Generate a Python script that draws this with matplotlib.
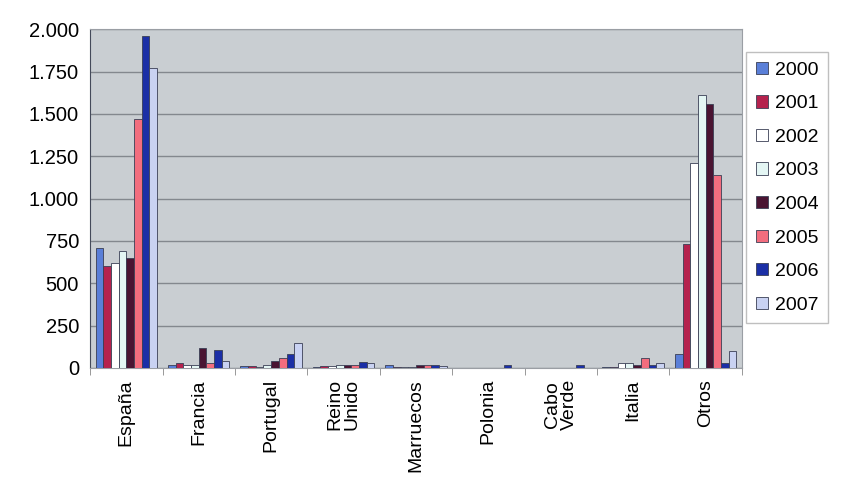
import numpy as np
import matplotlib.pyplot as plt
from matplotlib.ticker import FixedLocator

plt.rcParams["font.family"] = ["Liberation Sans", "DejaVu Sans"]

countries = ["España", "Francia", "Portugal", "Reino\nUnido", "Marruecos",
             "Polonia", "Cabo\nVerde", "Italia", "Otros"]
years = ["2000", "2001", "2002", "2003", "2004", "2005", "2006", "2007"]

# one list per year, one value per country
y2000 = [710, 20, 10, 5, 15, 0, 0, 5, 80]
y2001 = [600, 30, 10, 10, 5, 0, 0, 5, 730]
y2002 = [620, 15, 5, 10, 5, 0, 0, 30, 1210]
y2003 = [690, 20, 20, 15, 5, 0, 0, 30, 1610]
y2004 = [650, 120, 40, 20, 20, 0, 0, 20, 1560]
y2005 = [1470, 30, 60, 20, 15, 0, 0, 60, 1140]
y2006 = [1960, 105, 80, 35, 15, 15, 15, 20, 30]
y2007 = [1770, 40, 150, 30, 10, 0, 0, 30, 100]
series = [y2000, y2001, y2002, y2003, y2004, y2005, y2006, y2007]

colors = ["#5a7fd8", "#b5224e", "#ffffff", "#e4f6f4",
          "#4a1432", "#f26d7e", "#1b2fa6", "#c9d2f2"]

fig = plt.figure(figsize=(8.42, 4.88), dpi=100)
ax = fig.add_axes([0.107, 0.246, 0.774, 0.694])
ax.set_facecolor("#c9ced2")

x = np.arange(len(countries))
n = len(series)
width = 0.85 / n
for i, (vals, col) in enumerate(zip(series, colors)):
    offs = (i - (n - 1) / 2) * width
    ax.bar(x + offs, vals, width=width, color=col, edgecolor="#3a3f55",
           linewidth=0.6, label=years[i], zorder=3)

ax.set_xlim(-0.5, len(countries) - 0.5)
ax.set_ylim(0, 2000)
yt = [0, 250, 500, 750, 1000, 1250, 1500, 1750, 2000]
ax.set_yticks(yt)
ax.set_yticklabels([f"{v:,}".replace(",", ".") for v in yt], fontsize=14.5)
ax.yaxis.grid(True, color="#83888e", linewidth=1.0, zorder=0)

ax.set_xticks(x)
ax.set_xticklabels(countries, rotation=90, fontsize=14, va="top",
                   ha="center", linespacing=0.95)
ax.tick_params(axis="x", length=0, pad=8)
ax.xaxis.set_minor_locator(FixedLocator(np.arange(-0.5, len(countries), 1)))
ax.tick_params(axis="x", which="minor", length=5, color="#888888")
ax.tick_params(axis="y", length=0, pad=8)

for s in ["top", "right"]:
    ax.spines[s].set_color("#9a9ea4")
ax.spines["left"].set_color("#444a5a")
ax.spines["bottom"].set_color("#9a9ea4")

ax.legend(loc="upper left", bbox_to_anchor=(0.998, 0.95), fontsize=14,
          frameon=True, fancybox=False, edgecolor="#b0b0b0",
          handlelength=0.6, handleheight=0.6, handletextpad=0.35,
          labelspacing=0.85, borderpad=0.5, borderaxespad=0.3)

fig.savefig("out.png", dpi=100)
